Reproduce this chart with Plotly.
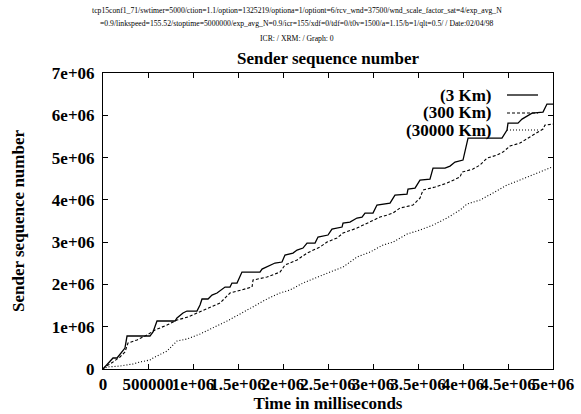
import plotly.graph_objects as go

# ---- data ----
t_3km = [0, 111e3, 156e3, 244e3, 267e3, 522e3, 556e3, 600e3, 800e3, 822e3, 889e3, 933e3, 1044e3,
         1078e3, 1100e3, 1167e3, 1211e3, 1267e3, 1356e3, 1411e3, 1433e3, 1489e3, 1544e3, 1744e3,
         1767e3, 1856e3, 1911e3, 1989e3, 2022e3, 2111e3, 2156e3, 2222e3, 2267e3, 2356e3, 2389e3,
         2500e3, 2544e3, 2656e3, 2667e3, 2744e3, 2822e3, 2878e3, 2911e3, 3000e3, 3044e3, 3189e3,
         3244e3, 3378e3, 3389e3, 3467e3, 3522e3, 3633e3, 3667e3, 3800e3, 3856e3, 3911e3, 4000e3,
         4056e3, 4433e3, 4489e3, 4500e3, 4611e3, 4656e3, 4767e3, 4889e3, 4933e3, 5000e3]
s_3km = [0, 260e3, 260e3, 496e3, 780e3, 780e3, 875e3, 1135e3, 1135e3, 1206e3, 1324e3, 1371e3, 1371e3,
         1513e3, 1655e3, 1655e3, 1749e3, 1797e3, 1938e3, 1938e3, 2033e3, 2033e3, 2293e3, 2293e3,
         2364e3, 2459e3, 2506e3, 2530e3, 2695e3, 2742e3, 2813e3, 2860e3, 2979e3, 2979e3, 3120e3,
         3168e3, 3310e3, 3357e3, 3451e3, 3475e3, 3570e3, 3593e3, 3688e3, 3688e3, 3877e3, 3924e3,
         4113e3, 4137e3, 4255e3, 4279e3, 4468e3, 4492e3, 4752e3, 4752e3, 4799e3, 4893e3, 4941e3,
         5461e3, 5461e3, 5650e3, 5815e3, 5815e3, 5910e3, 6052e3, 6075e3, 6265e3, 6265e3]

t_300km = [0, 22e3, 111e3, 189e3, 244e3, 278e3, 378e3, 489e3, 578e3, 711e3, 822e3, 944e3, 1044e3,
           1189e3, 1300e3, 1411e3, 1522e3, 1656e3, 1667e3, 1822e3, 1967e3, 2022e3, 2156e3, 2267e3,
           2411e3, 2489e3, 2600e3, 2667e3, 2822e3, 2967e3, 3078e3, 3156e3, 3222e3, 3300e3, 3444e3,
           3522e3, 3556e3, 3689e3, 3822e3, 3967e3, 3989e3, 4111e3, 4189e3, 4267e3, 4378e3, 4444e3,
           4522e3, 4633e3, 4711e3, 4778e3, 4889e3, 4911e3, 5000e3]
s_300km = [0, 47e3, 165e3, 284e3, 402e3, 615e3, 686e3, 804e3, 922e3, 1040e3, 1158e3, 1229e3, 1324e3,
           1466e3, 1560e3, 1797e3, 1868e3, 1938e3, 2104e3, 2175e3, 2293e3, 2459e3, 2577e3, 2742e3,
           2884e3, 3002e3, 3097e3, 3215e3, 3333e3, 3475e3, 3593e3, 3640e3, 3688e3, 3806e3, 3877e3,
           4042e3, 4232e3, 4302e3, 4397e3, 4539e3, 4657e3, 4728e3, 4823e3, 4988e3, 5059e3, 5130e3,
           5272e3, 5343e3, 5437e3, 5532e3, 5674e3, 5768e3, 5792e3]

t_30000km = [0, 44e3, 189e3, 333e3, 411e3, 522e3, 556e3, 711e3, 822e3, 933e3, 1078e3, 1222e3, 1378e3,
             1522e3, 1667e3, 1822e3, 1967e3, 2078e3, 2222e3, 2378e3, 2522e3, 2667e3, 2822e3, 2967e3,
             3111e3, 3222e3, 3378e3, 3522e3, 3667e3, 3822e3, 3967e3, 4044e3, 4189e3, 4333e3, 4489e3,
             4633e3, 4778e3, 4989e3]
s_30000km = [0, 47e3, 71e3, 118e3, 165e3, 213e3, 260e3, 425e3, 662e3, 709e3, 827e3, 969e3, 1135e3,
             1300e3, 1466e3, 1655e3, 1797e3, 1868e3, 2033e3, 2175e3, 2293e3, 2411e3, 2648e3, 2766e3,
             2931e3, 3002e3, 3191e3, 3286e3, 3404e3, 3570e3, 3759e3, 3901e3, 3995e3, 4161e3, 4350e3,
             4468e3, 4586e3, 4775e3]

series_names = ["(3 Km)", "(300 Km)", "(30000 Km)"]

x_tickvals = [0, 500000, 1e6, 1.5e6, 2e6, 2.5e6, 3e6, 3.5e6, 4e6, 4.5e6, 5e6]
x_ticktext = ["0", "500000", "1e+06", "1.5e+06", "2e+06", "2.5e+06", "3e+06", "3.5e+06", "4e+06",
              "4.5e+06", "5e+06"]
y_tickvals = [0, 1e6, 2e6, 3e6, 4e6, 5e6, 6e6, 7e6]
y_ticktext = ["0", "1e+06", "2e+06", "3e+06", "4e+06", "5e+06", "6e+06", "7e+06"]

header_lines = [
    "tcp15conf1_71/swtimer=5000/ction=1.1/option=1325219/optiona=1/optiont=6/rcv_wnd=37500/wnd_scale_factor_sat=4/exp_avg_N",
    "=0.9/linkspeed=155.52/stoptime=5000000/exp_avg_N=0.9/icr=155/xdf=0/tdf=0/t0v=1500/a=1.15/b=1/qlt=0.5/ / Date:02/04/98",
    "ICR: / XRM: / Graph: 0",
]
title_text = "Sender sequence number"
x_title = "Time in milliseconds"
y_title = "Sender sequence number"

FONT = "Liberation Serif, Times New Roman, serif"
FS = 17
series_dash = ["solid", "3px,2px", "1px,2px"]
widths = [1.3, 1.1, 1.1]

fig = go.Figure()
xs = [t_3km, t_300km, t_30000km]
ys = [s_3km, s_300km, s_30000km]
for x, y, name, dash, w in zip(xs, ys, series_names, series_dash, widths):
    fig.add_trace(go.Scatter(x=x, y=y, mode="lines", name=name, showlegend=False,
                             line=dict(color="black", width=w, dash=dash)))

W, H = 581, 414
L, R, T, B = 103, 28, 73, 45
pw, ph = W - L - R, H - T - B

def px(xp):
    return (xp - L) / pw

def py(yp):
    return 1 - (yp - T) / ph

annotations = []
for i, line in enumerate(header_lines):
    annotations.append(dict(text=line, x=px(297), y=py([10, 24, 39][i]), xref="paper", yref="paper",
                            showarrow=False, xanchor="center", yanchor="middle",
                            font=dict(family=FONT, size=7.7, color="black")))
annotations.append(dict(text="<b>%s</b>" % title_text, x=0.5, y=py(58), xref="paper", yref="paper",
                        showarrow=False, xanchor="center", yanchor="middle",
                        font=dict(family=FONT, size=FS, color="black")))

legend_y = [95, 113, 130]
shapes = []
for name, dash, w, ly in zip(series_names, series_dash, widths, legend_y):
    annotations.append(dict(text="<b>%s</b>" % name, x=px(493), y=py(ly), xref="paper", yref="paper",
                            showarrow=False, xanchor="right", yanchor="middle",
                            font=dict(family=FONT, size=FS, color="black")))
    shapes.append(dict(type="line", xref="paper", yref="paper", x0=px(507), x1=px(538),
                       y0=py(ly), y1=py(ly), line=dict(color="black", width=w, dash=dash)))

axis_common = dict(showline=True, linecolor="black", linewidth=1, mirror="ticks", ticks="inside",
                   ticklen=5, tickcolor="black", showgrid=False, zeroline=False, automargin=False,
                   tickfont=dict(family=FONT, size=FS, color="black"))

fig.update_layout(
    width=W, height=H, margin=dict(l=L, r=R, t=T, b=B),
    paper_bgcolor="white", plot_bgcolor="white",
    annotations=annotations, shapes=shapes,
    xaxis=dict(range=[0, 5e6], tickvals=x_tickvals, ticktext=["<b>%s</b>" % t for t in x_ticktext],
               tickangle=0, title=dict(text="<b>%s</b>" % x_title, standoff=0,
                                        font=dict(family=FONT, size=FS, color="black")),
               **axis_common),
    yaxis=dict(range=[0, 7e6], tickvals=y_tickvals, ticktext=["<b>%s</b>" % t for t in y_ticktext],
               ticklabelstandoff=4,
               title=dict(text="<b>%s</b>" % y_title, standoff=22,
                          font=dict(family=FONT, size=FS, color="black")),
               **axis_common),
)

fig.write_html("out.html", config={"displayModeBar": False},
               post_script="document.body.style.margin='0';document.body.style.overflow='hidden';")
